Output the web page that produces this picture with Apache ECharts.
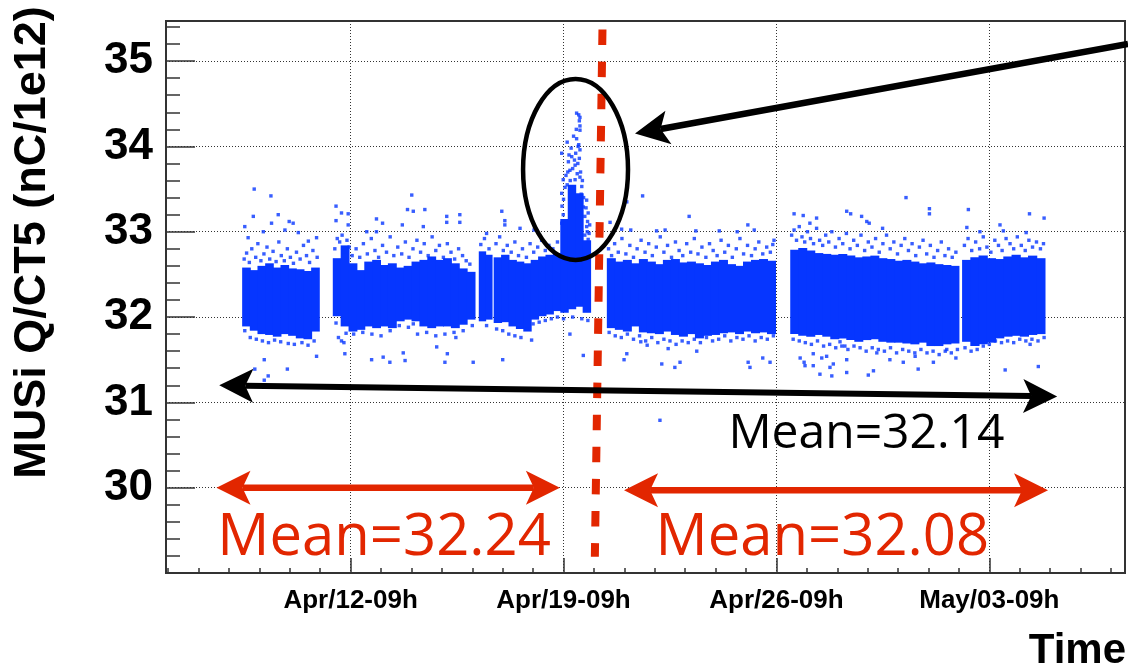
<!DOCTYPE html>
<html>
<head>
<meta charset="utf-8">
<title>MUSi Q/CT5 vs Time</title>
<script src="https://cdn.jsdelivr.net/npm/echarts@6/dist/echarts.min.js"></script>
<style>
  html, body { margin: 0; padding: 0; background: #fff; }
  #chart { width: 1128px; height: 671px; }
</style>
</head>
<body>
<div id="chart"></div>
<script>
// x is in days after Apr/12-09h, y is Q/CT5 in nC/1e12
const weekTicks = [0, 7, 14, 21];
const weekLabels = ['Apr/12-09h', 'Apr/19-09h', 'Apr/26-09h', 'May/03-09h'];
const valueTicks = [30, 31, 32, 33, 34, 35];

// dense data band: one block per run period, split into bins (low / high edge)
const segStart = [-3.55, -0.57, 4.23, 4.72, 6.91, 8.44, 14.47, 20.12];
const segEnd = [-1.03, 4.09, 4.65, 6.91, 7.89, 13.97, 20.00, 22.83];
const bandHigh = [
  [32.58, 32.55, 32.60, 32.63, 32.58, 32.61, 32.57, 32.56, 32.54, 32.58],
  [32.69, 32.84, 32.63, 32.55, 32.65, 32.67, 32.61, 32.63, 32.58, 32.60, 32.65, 32.67, 32.71, 32.67, 32.69, 32.63, 32.57, 32.53],
  [32.77, 32.73],
  [32.70, 32.73, 32.67, 32.65, 32.63, 32.67, 32.71, 32.73, 32.75],
  [33.15, 33.55, 33.45, 32.90],
  [32.69, 32.65, 32.67, 32.63, 32.68, 32.65, 32.62, 32.67, 32.68, 32.64, 32.65, 32.63, 32.61, 32.65, 32.67, 32.62, 32.60, 32.65, 32.67, 32.68, 32.66],
  [32.79, 32.81, 32.78, 32.75, 32.74, 32.73, 32.74, 32.72, 32.70, 32.71, 32.72, 32.69, 32.68, 32.66, 32.67, 32.65, 32.63, 32.64, 32.62, 32.61, 32.60],
  [32.67, 32.70, 32.72, 32.69, 32.68, 32.71, 32.73, 32.70, 32.72, 32.69]
];
const bandLow = [
  [31.89, 31.84, 31.80, 31.79, 31.77, 31.80, 31.78, 31.75, 31.74, 31.83],
  [32.01, 31.89, 31.83, 31.85, 31.89, 31.87, 31.89, 31.87, 31.95, 31.97, 31.95, 31.89, 31.87, 31.89, 31.89, 31.87, 31.91, 31.97],
  [31.95, 31.97],
  [31.93, 31.94, 31.89, 31.86, 31.83, 31.97, 32.01, 32.03, 32.07],
  [32.05, 32.09, 32.12, 32.05],
  [31.87, 31.85, 31.83, 31.89, 31.82, 31.81, 31.80, 31.83, 31.79, 31.77, 31.80, 31.75, 31.78, 31.79, 31.81, 31.82, 31.80, 31.83, 31.81, 31.82, 31.80],
  [31.80, 31.78, 31.77, 31.79, 31.77, 31.74, 31.75, 31.73, 31.71, 31.73, 31.74, 31.71, 31.70, 31.70, 31.69, 31.68, 31.70, 31.66, 31.66, 31.68, 31.69],
  [31.71, 31.66, 31.68, 31.70, 31.75, 31.77, 31.78, 31.77, 31.79, 31.80]
];

// sparse points on the ragged edges of the band
const fringeTop = [
  [-3.50, 32.68], [-3.42, 32.75], [-3.33, 32.64], [-3.25, 32.80], [-3.12, 32.70], [-3.05, 32.86], [-2.95, 32.66], [-2.85, 32.74],
  [-2.75, 32.82], [-2.66, 32.68], [-2.55, 32.77], [-2.45, 32.65], [-2.36, 32.88], [-2.28, 32.72], [-2.18, 32.66], [-2.08, 32.80],
  [-1.98, 32.70], [-1.88, 32.63], [-1.78, 32.76], [-1.66, 32.68], [-1.55, 32.84], [-1.45, 32.72], [-1.35, 32.64], [-1.24, 32.78], [-1.10, 32.70],
  [-0.52, 32.80], [-0.44, 32.92], [-0.36, 32.88], [-0.28, 32.96], [-0.20, 32.76], [-0.12, 32.90], [-0.05, 32.82], [0.05, 32.72],
  [0.18, 32.80], [0.30, 32.70], [0.42, 32.86], [0.55, 32.74], [0.68, 32.92], [0.80, 32.78], [0.92, 32.70], [1.05, 32.84],
  [1.18, 32.76], [1.30, 32.94], [1.42, 32.72], [1.55, 32.82], [1.68, 32.74], [1.80, 32.88], [1.92, 32.70], [2.05, 32.80],
  [2.18, 32.90], [2.30, 32.76], [2.42, 32.86], [2.55, 32.72], [2.68, 32.94], [2.80, 32.78], [2.92, 32.84], [3.05, 32.70],
  [3.18, 32.86], [3.30, 32.76], [3.42, 32.68], [3.55, 32.80], [3.68, 32.72], [3.80, 32.66], [3.92, 32.62],
  [4.28, 32.85], [4.40, 32.92], [4.55, 32.80], [4.78, 32.86], [4.90, 32.94], [5.02, 32.78], [5.15, 32.84], [5.28, 32.76],
  [5.40, 32.88], [5.52, 32.72], [5.65, 32.80], [5.78, 32.70], [5.90, 32.86], [6.02, 32.76], [6.15, 32.82], [6.28, 32.90],
  [6.40, 32.78], [6.52, 32.84], [6.65, 32.80], [6.80, 32.88],
  [8.48, 32.80], [8.58, 32.72], [8.68, 32.86], [8.80, 32.76], [8.92, 32.92], [9.05, 32.74], [9.18, 32.84], [9.30, 32.70],
  [9.42, 32.80], [9.55, 32.90], [9.68, 32.76], [9.80, 32.86], [9.92, 32.72], [10.05, 32.82], [10.18, 32.94], [10.30, 32.76],
  [10.42, 32.84], [10.55, 32.70], [10.68, 32.88], [10.80, 32.78], [10.92, 32.72], [11.05, 32.86], [11.18, 32.76], [11.30, 32.92],
  [11.42, 32.74], [11.55, 32.82], [11.68, 32.70], [11.80, 32.86], [11.92, 32.78], [12.05, 32.72], [12.18, 32.90], [12.30, 32.76],
  [12.42, 32.84], [12.55, 32.70], [12.68, 32.80], [12.80, 32.92], [12.92, 32.74], [13.05, 32.84], [13.18, 32.72], [13.30, 32.80],
  [13.42, 32.88], [13.55, 32.74], [13.68, 32.82], [13.80, 32.76], [13.92, 32.90],
  [14.50, 32.96], [14.58, 33.02], [14.66, 32.90], [14.75, 33.06], [14.84, 32.94], [14.93, 32.88], [15.02, 33.00], [15.12, 32.92],
  [15.22, 32.86], [15.32, 33.04], [15.42, 32.90], [15.52, 32.84], [15.62, 32.96], [15.72, 32.88], [15.82, 33.00], [15.94, 32.82],
  [16.06, 32.92], [16.18, 32.86], [16.30, 32.98], [16.42, 32.80], [16.54, 32.90], [16.66, 32.84], [16.78, 32.96], [16.90, 32.78],
  [17.02, 32.88], [17.14, 32.82], [17.26, 32.92], [17.38, 32.76], [17.50, 32.86], [17.62, 32.96], [17.74, 32.80], [17.86, 32.88],
  [17.98, 32.74], [18.10, 32.84], [18.22, 32.92], [18.34, 32.78], [18.46, 32.86], [18.58, 32.72], [18.70, 32.82], [18.82, 32.90],
  [18.94, 32.74], [19.06, 32.84], [19.18, 32.70], [19.30, 32.78], [19.42, 32.88], [19.54, 32.72], [19.66, 32.80], [19.78, 32.70], [19.90, 32.76],
  [20.18, 32.84], [20.30, 32.92], [20.42, 32.78], [20.55, 32.88], [20.68, 32.80], [20.80, 32.94], [20.92, 32.82], [21.05, 32.76],
  [21.18, 32.90], [21.30, 32.84], [21.42, 32.78], [21.55, 32.92], [21.68, 32.86], [21.80, 32.80], [21.92, 32.94], [22.05, 32.84],
  [22.18, 32.78], [22.30, 32.90], [22.42, 32.82], [22.55, 32.88], [22.68, 32.80], [22.78, 32.86]
];
const fringeBottom = [
  [-3.48, 31.84], [-3.30, 31.76], [-3.10, 31.74], [-2.90, 31.72], [-2.70, 31.70], [-2.50, 31.73], [-2.30, 31.71], [-2.05, 31.69],
  [-1.85, 31.68], [-1.60, 31.70], [-1.40, 31.67], [-1.20, 31.72],
  [-0.40, 31.76], [-0.30, 31.72], [-0.22, 31.70], [0.10, 31.80], [0.40, 31.82], [0.70, 31.80], [1.00, 31.78], [1.30, 31.84],
  [1.60, 31.90], [1.90, 31.88], [2.20, 31.80], [2.50, 31.82], [2.80, 31.78], [3.10, 31.80], [3.40, 31.82], [3.70, 31.84], [4.00, 31.90],
  [4.80, 31.86], [5.00, 31.84], [5.20, 31.80], [5.40, 31.78], [5.60, 31.76], [5.80, 31.86], [6.00, 31.92], [6.20, 31.94],
  [6.40, 31.96], [6.60, 31.98], [6.80, 32.00], [7.00, 31.98], [7.30, 32.00], [7.60, 31.98], [7.80, 31.96],
  [8.50, 31.82], [8.70, 31.78], [8.90, 31.76], [9.10, 31.80], [9.30, 31.74], [9.50, 31.78], [9.70, 31.72], [9.90, 31.76],
  [10.10, 31.70], [10.30, 31.74], [10.50, 31.72], [10.70, 31.68], [10.90, 31.72], [11.10, 31.70], [11.30, 31.74], [11.50, 31.70],
  [11.70, 31.76], [11.90, 31.72], [12.10, 31.74], [12.30, 31.78], [12.50, 31.72], [12.70, 31.76], [12.90, 31.74], [13.10, 31.78],
  [13.30, 31.72], [13.50, 31.76], [13.70, 31.74], [13.90, 31.78],
  [14.55, 31.74], [14.75, 31.72], [14.95, 31.70], [15.15, 31.68], [15.35, 31.72], [15.55, 31.66], [15.75, 31.68], [15.95, 31.64],
  [16.15, 31.66], [16.35, 31.62], [16.55, 31.66], [16.75, 31.64], [16.95, 31.60], [17.15, 31.64], [17.35, 31.62], [17.55, 31.60],
  [17.75, 31.64], [17.95, 31.58], [18.15, 31.62], [18.35, 31.60], [18.55, 31.58], [18.75, 31.62], [18.95, 31.58], [19.15, 31.60],
  [19.35, 31.56], [19.55, 31.60], [19.75, 31.58], [19.95, 31.62],
  [20.20, 31.64], [20.40, 31.60], [20.60, 31.62], [20.80, 31.66], [21.00, 31.68], [21.20, 31.72], [21.40, 31.70], [21.60, 31.72],
  [21.80, 31.70], [22.00, 31.74], [22.20, 31.72], [22.40, 31.74], [22.60, 31.72], [22.80, 31.76]
];

// single points well outside the band
const pointsAbove = [
  [-3.17, 33.50], [-2.62, 33.42], [-3.20, 33.18], [-2.38, 33.20], [-3.48, 33.06], [-2.60, 33.10], [-2.02, 33.12], [-1.89, 33.10],
  [-2.87, 33.00], [-2.16, 33.02], [-1.72, 32.99], [-1.12, 32.93], [-1.39, 32.89], [-3.37, 32.93],
  [-0.48, 33.30], [-0.48, 33.13], [-0.30, 33.22], [-0.08, 33.21], [-0.08, 33.08],
  [2.01, 33.43], [1.87, 33.26], [2.44, 33.26], [2.06, 33.24], [0.85, 33.15], [1.05, 33.10], [1.70, 33.08], [2.39, 33.06],
  [3.16, 33.18], [3.59, 33.20], [3.59, 33.11], [3.16, 33.11], [4.97, 33.24], [5.07, 33.13], [5.07, 33.08], [5.57, 33.04],
  [4.47, 32.98], [6.03, 33.02], [0.53, 33.00], [0.85, 33.00], [7.79, 33.12], [9.60, 33.42],
  [9.08, 33.35], [11.13, 33.18], [8.53, 33.11], [8.91, 33.03], [9.21, 33.02], [10.06, 33.01], [10.34, 33.02], [11.35, 33.01],
  [12.12, 33.01], [13.06, 33.08], [13.27, 33.02], [12.71, 33.00], [13.88, 32.85],
  [18.26, 33.40], [19.03, 33.27], [19.03, 33.21], [16.31, 33.24], [16.44, 33.21], [16.80, 33.18], [16.97, 33.12], [17.05, 33.10],
  [14.58, 33.21], [14.88, 33.19], [15.32, 33.16], [15.10, 33.10], [17.49, 33.04], [20.31, 33.26], [20.26, 33.05], [20.69, 33.00],
  [21.35, 33.08], [22.32, 33.21], [22.80, 33.16], [22.21, 32.99], [21.46, 33.01]
];
const pointsPeak = [
  [7.43, 34.39], [7.50, 34.37], [7.54, 34.34], [7.52, 34.30], [7.54, 34.24], [7.54, 34.19], [7.12, 34.05], [7.43, 34.09],
  [7.50, 34.02], [7.54, 33.96], [6.94, 33.92], [7.27, 33.88], [7.16, 33.82], [7.38, 33.78], [7.21, 33.72], [7.45, 33.68],
  [7.54, 33.64], [6.99, 33.61], [7.38, 33.61], [7.12, 33.55], [7.60, 33.53], [6.94, 33.45], [7.76, 33.37], [7.65, 33.29],
  [7.81, 33.22], [7.76, 33.06], [7.70, 32.96], [7.81, 32.91], [6.99, 33.20], [6.94, 33.10],
  [6.95, 33.30], [7.00, 33.38], [7.05, 33.52], [7.08, 33.66], [7.14, 33.70], [7.18, 33.90], [7.22, 33.60], [7.25, 33.98],
  [7.30, 33.74], [7.33, 34.12], [7.36, 33.84], [7.40, 33.92], [7.42, 34.20], [7.47, 33.80], [7.48, 34.00], [7.52, 33.86],
  [7.56, 33.70], [7.58, 33.44], [7.62, 33.60], [7.66, 33.40], [7.70, 33.18], [7.74, 33.28], [7.78, 33.00], [7.84, 32.98], [7.86, 33.08]
];
const pointsBelow = [
  [-1.12, 31.54], [-2.84, 31.50], [-0.48, 31.93], [-0.15, 31.81], [-0.19, 31.57],
  [2.06, 31.92], [1.73, 31.58], [1.07, 31.53], [0.69, 31.50], [1.29, 31.47], [1.79, 31.49], [2.83, 31.65], [3.18, 31.57],
  [3.10, 31.47], [4.03, 31.47], [5.00, 31.50], [3.46, 31.76], [5.95, 31.73], [4.47, 31.90], [7.21, 31.80], [7.65, 31.55],
  [-3.15, 31.39], [-2.71, 31.31], [-2.84, 31.26], [-2.08, 31.39],
  [9.54, 31.71], [9.75, 31.67], [9.08, 31.57], [8.99, 31.50], [11.38, 31.60], [10.44, 31.63], [10.23, 31.45], [10.83, 31.47],
  [10.66, 31.41], [13.07, 31.47], [13.13, 31.41], [13.55, 31.52], [13.79, 31.47], [10.17, 30.79],
  [14.78, 31.52], [14.91, 31.47], [15.21, 31.57], [15.49, 31.52], [15.65, 31.54], [15.87, 31.45], [16.31, 31.50], [16.09, 31.71],
  [16.25, 31.66], [17.30, 31.58], [17.73, 31.50], [18.17, 31.47], [18.56, 31.54], [19.16, 31.47], [19.60, 31.62], [19.90, 31.52],
  [22.34, 31.68], [22.61, 31.42], [14.94, 31.43], [15.43, 31.33], [15.82, 31.31], [16.31, 31.35], [17.02, 31.32], [17.19, 31.37],
  [18.66, 31.39], [21.52, 31.38], [15.76, 31.41], [15.21, 31.43]
];

// annotations (data coordinates)
const meanAll = { text: 'Mean=32.14', from: [-4.32, 31.20], to: [23.23, 31.07], label: [16.96, 30.63] };
const meanBefore = { text: 'Mean=32.24', from: [-4.41, 30.00], to: [6.88, 30.00], label: [1.10, 29.41] };
const meanAfter = { text: 'Mean=32.08', from: [8.99, 29.97], to: [22.93, 29.97], label: [15.51, 29.41] };
const changeLine = [[8.28, 35.37], [8.03, 29.19]];
const peakEllipse = { left: 5.67, right: 9.12, top: 34.79, bottom: 32.67 };
const peakArrow = { from: [25.56, 35.20], to: [9.35, 34.15] };

const BLUE = '#0636ff';
const RED = '#e22600';
const AXIS = '#333';
const X_MIN = -6.07, X_MAX = 25.46, Y_MIN = 29, Y_MAX = 35.47;

// minor tick positions (one per day, 0.2 on the value axis)
const dayTicks = [];
for (let d = -6; d <= 25; d++) dayTicks.push(d);
const minorValueTicks = [];
for (let k = 1; k <= 32; k++) minorValueTicks.push(+(29 + k * 0.2).toFixed(1));

const bandBins = [];
segStart.forEach((s, i) => {
  const n = bandHigh[i].length;
  const w = (segEnd[i] - s) / n;
  for (let j = 0; j < n; j++) {
    bandBins.push([s + j * w, s + (j + 1) * w, bandLow[i][j], bandHigh[i][j]]);
  }
});

const chart = echarts.init(document.getElementById('chart'));

const gridLine = { show: true, lineStyle: { color: '#333', width: 1, type: [1, 2] } };

const option = {
  animation: false,
  backgroundColor: '#fff',
  grid: {
    left: 166, right: 3, top: 21, bottom: 98,
    show: true, borderColor: AXIS, borderWidth: 2,
    outerBoundsMode: 'none'
  },
  xAxis: [
    {
      type: 'value', min: X_MIN, max: X_MAX, position: 'bottom',
      axisLine: { show: true, onZero: false, lineStyle: { color: AXIS, width: 2 } },
      axisTick: { show: true, inside: true, length: 15, customValues: weekTicks, lineStyle: { color: AXIS, width: 1.5 } },
      axisLabel: {
        customValues: weekTicks, margin: 15,
        formatter: (v) => weekLabels[weekTicks.indexOf(v)] || '',
        color: '#000', fontFamily: 'Liberation Sans', fontWeight: 'bold', fontSize: 26
      },
      splitLine: gridLine
    },
    {
      type: 'value', min: X_MIN, max: X_MAX, position: 'bottom',
      axisLine: { show: false, onZero: false },
      axisTick: { show: true, inside: true, length: 5, customValues: dayTicks, lineStyle: { color: AXIS, width: 1.5 } },
      axisLabel: { show: false },
      splitLine: { show: false }
    }
  ],
  yAxis: [
    {
      type: 'value', min: Y_MIN, max: Y_MAX, position: 'left',
      axisLine: { show: true, onZero: false, lineStyle: { color: AXIS, width: 2 } },
      axisTick: { show: true, inside: true, length: 29, customValues: valueTicks, lineStyle: { color: AXIS, width: 1.5 } },
      axisLabel: {
        customValues: valueTicks, margin: 13,
        color: '#000', fontFamily: 'Liberation Sans', fontWeight: 'bold', fontSize: 44
      },
      splitLine: gridLine
    },
    {
      type: 'value', min: Y_MIN, max: Y_MAX, position: 'left',
      axisLine: { show: false, onZero: false },
      axisTick: { show: true, inside: true, length: 14, customValues: minorValueTicks, lineStyle: { color: AXIS, width: 1.5 } },
      axisLabel: { show: false },
      splitLine: { show: false }
    }
  ],
  series: [
    {
      name: 'band',
      type: 'custom',
      xAxisIndex: 0, yAxisIndex: 0,
      data: bandBins,
      encode: { x: [0, 1], y: [2, 3] },
      renderItem: (params, api) => {
        const p0 = api.coord([api.value(0), api.value(3)]);
        const p1 = api.coord([api.value(1), api.value(2)]);
        return {
          type: 'rect',
          shape: { x: p0[0] - 0.5, y: p0[1], width: p1[0] - p0[0] + 1, height: p1[1] - p0[1] },
          style: { fill: BLUE }
        };
      },
      silent: true
    },
    {
      name: 'points',
      type: 'scatter',
      xAxisIndex: 0, yAxisIndex: 0,
      data: fringeTop.concat(fringeBottom, pointsAbove, pointsPeak, pointsBelow),
      symbol: 'rect',
      symbolSize: 3.4,
      itemStyle: { color: BLUE },
      silent: true
    }
  ]
};
chart.setOption(option);

// annotations, placed from data coordinates
const px = (p) => chart.convertToPixel({ seriesIndex: 0 }, p);
const HEAD_L = 34, HEAD_W = 17, HEAD_NOTCH = 26;

function head(tip, from, color) {
  const dx = tip[0] - from[0], dy = tip[1] - from[1];
  const len = Math.hypot(dx, dy);
  const ux = dx / len, uy = dy / len, nx = -uy, ny = ux;
  return {
    type: 'polygon', z: 20,
    shape: { points: [
      tip,
      [tip[0] - ux * HEAD_L + nx * HEAD_W, tip[1] - uy * HEAD_L + ny * HEAD_W],
      [tip[0] - ux * HEAD_NOTCH, tip[1] - uy * HEAD_NOTCH],
      [tip[0] - ux * HEAD_L - nx * HEAD_W, tip[1] - uy * HEAD_L - ny * HEAD_W]
    ] },
    style: { fill: color }
  };
}

function arrow(fromData, toData, color, width, both) {
  const a = px(fromData), b = px(toData);
  const dx = b[0] - a[0], dy = b[1] - a[1];
  const len = Math.hypot(dx, dy);
  const ux = dx / len, uy = dy / len;
  const start = both ? [a[0] + ux * HEAD_NOTCH, a[1] + uy * HEAD_NOTCH] : a;
  const end = [b[0] - ux * HEAD_NOTCH, b[1] - uy * HEAD_NOTCH];
  const els = [{
    type: 'line', z: 19,
    shape: { x1: start[0], y1: start[1], x2: end[0], y2: end[1] },
    style: { stroke: color, lineWidth: width }
  }, head(b, a, color)];
  if (both) els.push(head(a, b, color));
  return els;
}

function label(m, color, size) {
  const p = px(m.label);
  return {
    type: 'text', z: 21, x: p[0], y: p[1],
    style: { text: m.text, fill: color, font: size + 'px "Open Sans"', align: 'center', verticalAlign: 'middle' }
  };
}

const topLeft = px([peakEllipse.left, peakEllipse.top]);
const botRight = px([peakEllipse.right, peakEllipse.bottom]);
const lineTop = px(changeLine[0]);
const lineBot = px(changeLine[1]);

const graphics = [].concat(
  arrow(meanAll.from, meanAll.to, '#000', 6, true),
  arrow(meanBefore.from, meanBefore.to, RED, 6.5, true),
  arrow(meanAfter.from, meanAfter.to, RED, 6.5, true),
  arrow(peakArrow.from, peakArrow.to, '#000', 6.5, false),
  [
    {
      type: 'ellipse', z: 18,
      shape: {
        cx: (topLeft[0] + botRight[0]) / 2, cy: (topLeft[1] + botRight[1]) / 2,
        rx: (botRight[0] - topLeft[0]) / 2, ry: (botRight[1] - topLeft[1]) / 2
      },
      style: { fill: null, stroke: '#000', lineWidth: 4.5 }
    },
    {
      type: 'line', z: 17,
      shape: { x1: lineTop[0], y1: lineTop[1], x2: lineBot[0], y2: lineBot[1] },
      style: { stroke: RED, lineWidth: 8, lineDash: [15.5, 16.6], lineCap: 'butt' }
    },
    label(meanAll, '#000', 48),
    label(meanBefore, RED, 58),
    label(meanAfter, RED, 58),
    {
      type: 'text', z: 21, x: 33, y: 242.5, rotation: Math.PI / 2,
      style: { text: 'MUSi Q/CT5 (nC/1e12)', fill: '#000', font: 'bold 45px "Liberation Sans"', align: 'center', verticalAlign: 'middle' }
    },
    {
      type: 'text', z: 21, x: 1126, y: 651.5,
      style: { text: 'Time', fill: '#000', font: 'bold 42px "Liberation Sans"', align: 'right', verticalAlign: 'middle' }
    }
  ]
);
chart.setOption({ graphic: graphics });
</script>
</body>
</html>
